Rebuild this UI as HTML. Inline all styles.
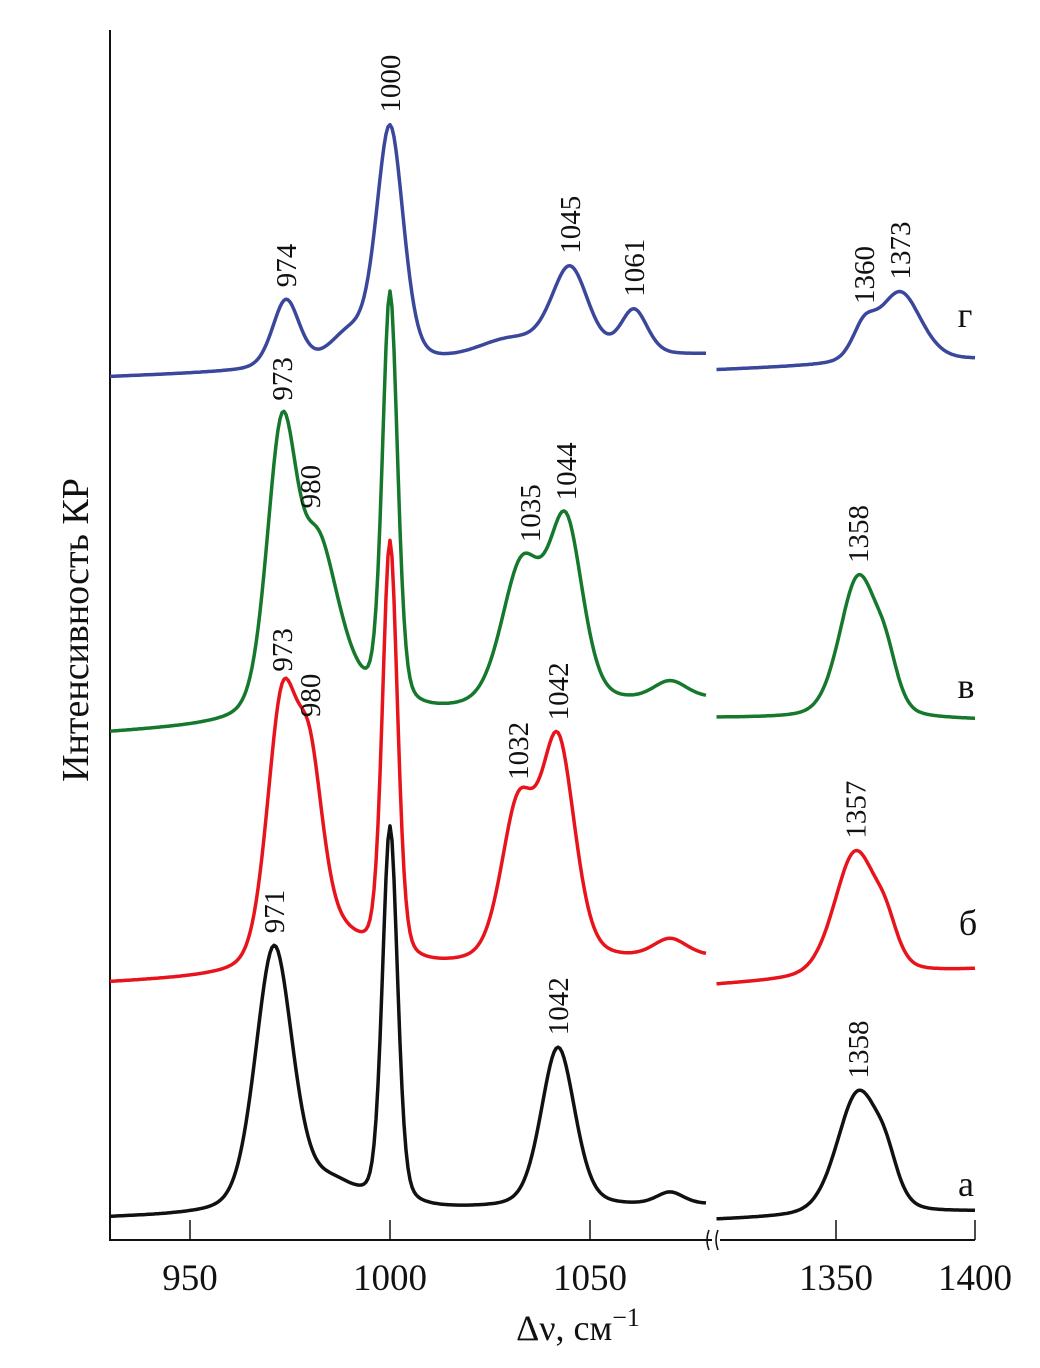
<!DOCTYPE html>
<html><head><meta charset="utf-8"><style>
html,body{margin:0;padding:0;background:#fff}
svg text{font-family:"Liberation Serif",serif;fill:#111}
</style></head><body>
<svg id="chart" width="1040" height="1363" viewBox="0 0 1040 1363" xmlns="http://www.w3.org/2000/svg">
<g id="axes">
<line x1="110" y1="30" x2="110" y2="1241" stroke="#111" stroke-width="2"/>
<line x1="109" y1="1240" x2="712" y2="1240" stroke="#111" stroke-width="2"/>
<line x1="720" y1="1240" x2="975" y2="1240" stroke="#111" stroke-width="2"/>
<path d="M709 1230 q-4 10 0 20 M718 1230 q-4 10 0 20" fill="none" stroke="#111" stroke-width="1.5"/>
</g>
<g id="ticks"></g>
<g id="curves"></g>
<g id="labels"></g>
<text transform="translate(88,630) rotate(-90)" text-anchor="middle" font-size="38">Интенсивность КР</text>
<text x="578" y="1340" text-anchor="middle" font-size="36">Δν, см<tspan dy="-14" font-size="26">−1</tspan></text>
<text x="965" y="327" text-anchor="middle" font-size="36">г</text>
<text x="966" y="698" text-anchor="middle" font-size="36">в</text>
<text x="968" y="935" text-anchor="middle" font-size="36">б</text>
<text x="966" y="1196" text-anchor="middle" font-size="36">а</text>
</svg>
<script>
const tickLeft=[950,1000,1050];
const tickRight=[1350,1400];
// series: a (black), б (red), в (green), г (blue)
const seriesNames=["a","b","v","g"];
const seriesColors=["#111111","#e8141c","#16782c","#3a479a"];
const baseLeft=[[1218,1205],[983,958],[733,700],[377,355]];
const baseRight=[[1220,1212],[985,970],[718,720],[370,360]];
const peaksLeftC=[[971,1000,1042,985,1070],[973,980,1000,1042,1032,1070,987],[973,982,1000,1044,1033,1070,988],[974,1000,1045,1061,990,1030]];
const peaksLeftH=[[265,380,160,25,12],[260,170,420,215,150,18,30],[287,140,415,175,140,18,40],[68,235,88,45,30,20]];
const peaksLeftW=[[11,4.5,10,15,8],[9,8,4.5,10,10,10,15],[9,10,4.5,10,12,10,12],[8,8,11,8,12,20]];
const peaksRightC=[[1358,1368],[1357,1368],[1358,1368],[1373,1360]];
const peaksRightH=[[122,30],[124,30],[140,40],[70,30]];
const peaksRightW=[[18,10],[18,10],[16,10],[18,10]];
const peakLabels=[
 [[971,"971"],[1042,"1042"]],
 [[973,"973"],[980,"980"],[1032,"1032"],[1042,"1042"]],
 [[973,"973"],[980,"980"],[1035,"1035"],[1044,"1044"]],
 [[974,"974"],[1000,"1000"],[1045,"1045"],[1061,"1061"]]];
const peakLabelsRight=[[[1358,"1358"]],[[1357,"1357"]],[[1358,"1358"]],[[1360,"1360"],[1373,"1373"]]];

const xL=v=>110+(v-930)*4;
const xR=v=>836+(v-1350)*2.78;
const NS="http://www.w3.org/2000/svg";
function prof(x,c,w){const d=(x-c)/w;return 0.7*Math.exp(-2.7726*d*d)+0.3/(1+4*d*d);}
function yAt(v,i,right){
 const b=right?baseRight[i]:baseLeft[i];
 const v0=right?1307:930,v1=right?1400:1079;
 let y=b[0]+(b[1]-b[0])*(v-v0)/(v1-v0);
 const C=right?peaksRightC[i]:peaksLeftC[i],H=right?peaksRightH[i]:peaksLeftH[i],W=right?peaksRightW[i]:peaksLeftW[i];
 for(let k=0;k<C.length;k++)y-=H[k]*prof(v,C[k],W[k]);
 return y;}
const tg=document.getElementById('ticks');
function tick(x,lab){
 const l=document.createElementNS(NS,'line');
 
 
 l.setAttribute('x1',x);l.setAttribute('x2',x);l.setAttribute('y1',1240);l.setAttribute('y2',1220);
 l.setAttribute('stroke','#111');l.setAttribute('stroke-width','1.5');tg.appendChild(l);
 const t=document.createElementNS(NS,'text');
 
 
 t.setAttribute('x',x);t.setAttribute('y',1290);t.setAttribute('text-anchor','middle');t.setAttribute('font-size','37');
 t.textContent=lab;tg.appendChild(t);}
tickLeft.forEach(v=>tick(xL(v),v));
tickRight.forEach(v=>tick(xR(v),v));
const cg=document.getElementById('curves'),lg=document.getElementById('labels');
function path(d,col,name){
 const p=document.createElementNS(NS,'path');
 
 
 p.setAttribute('d',d);p.setAttribute('fill','none');p.setAttribute('stroke',col);p.setAttribute('stroke-width','3.5');p.setAttribute('stroke-linejoin','round');
 cg.appendChild(p);}
function label(x,y,txt){
 const t=document.createElementNS(NS,'text');
 
 
 t.setAttribute('transform','translate('+(x+10)+','+y+') rotate(-90)');
 t.setAttribute('font-size','29');t.textContent=txt;lg.appendChild(t);}
seriesNames.forEach((n,i)=>{
 let d='';for(let v=930;v<=1079;v+=0.5){d+=(v===930?'M':'L')+xL(v).toFixed(1)+' '+yAt(v,i,false).toFixed(1);}
 path(d,seriesColors[i],'curve-'+n+'-left');
 d='';for(let v=1307;v<=1400;v+=0.5){d+=(v===1307?'M':'L')+xR(v).toFixed(1)+' '+yAt(v,i,true).toFixed(1);}
 path(d,seriesColors[i],'curve-'+n+'-right');
 peakLabels[i].forEach(p=>label(xL(p[0]),yAt(p[0],i,false)-12,p[1]));
 peakLabelsRight[i].forEach(p=>label(xR(p[0]),yAt(p[0],i,true)-12,p[1]));
});
</script>
</body></html>
